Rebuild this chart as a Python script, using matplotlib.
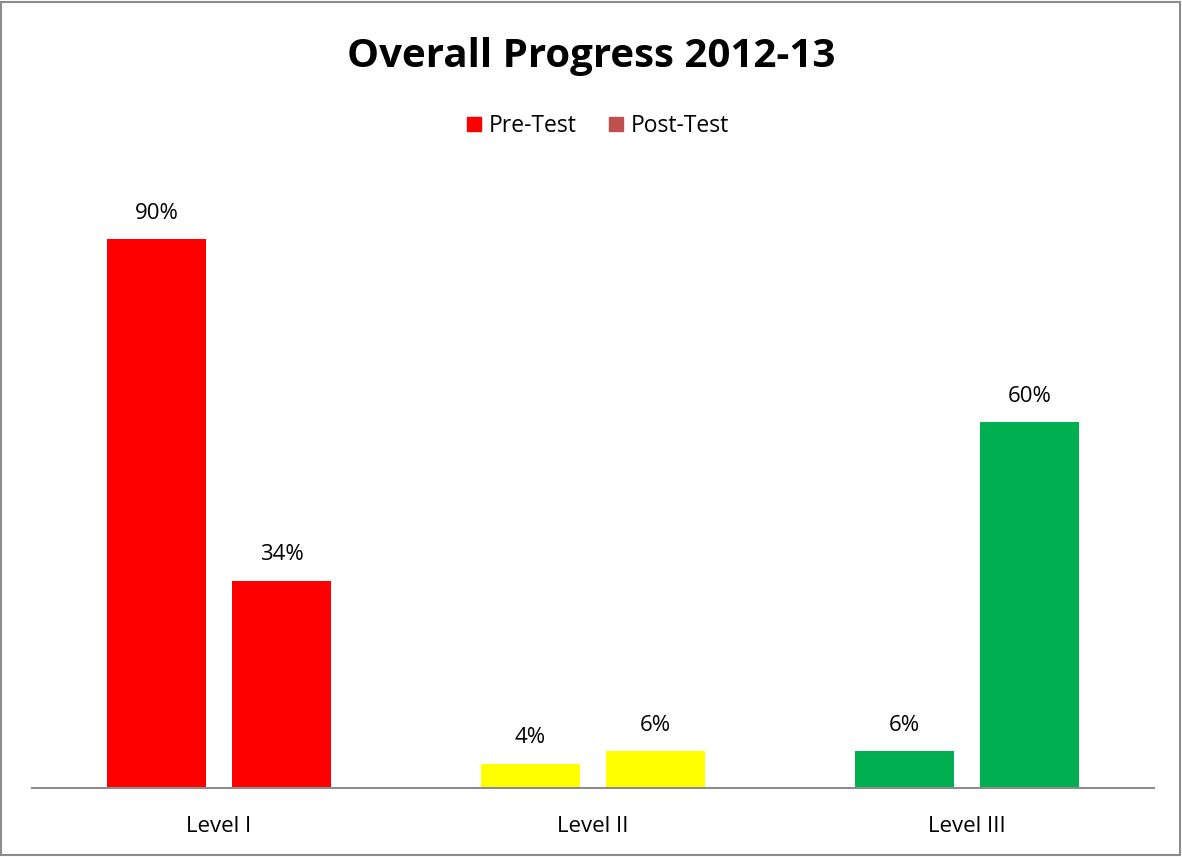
import matplotlib

matplotlib.use("Agg")
import matplotlib.pyplot as plt
import numpy as np
from matplotlib.patches import Patch, Rectangle

levels = ["Level I", "Level II", "Level III"]
pre_test = [90, 4, 6]
post_test = [34, 6, 60]
level_colors = ["#FF0000", "#FFFF00", "#00B050"]

plt.rcParams["font.family"] = ["Open Sans", "DejaVu Sans"]

fig = plt.figure(figsize=(11.82, 8.57), dpi=100)
ax = fig.add_axes([0.0271, 0.0805, 0.9492, 0.7118])

x = np.arange(len(levels))
width = 0.267
offset = 0.167
bars_pre = ax.bar(x - offset, pre_test, width, color=level_colors)
bars_post = ax.bar(x + offset, post_test, width, color=level_colors)

for bars, vals in ((bars_pre, pre_test), (bars_post, post_test)):
    for b, v in zip(bars, vals):
        ax.annotate(f"{v}%", (b.get_x() + b.get_width() / 2, v),
                    xytext=(0, 11), textcoords="offset points",
                    ha="center", va="bottom", fontsize=16)

ax.set_xlim(-0.5, 2.5)
ax.set_ylim(0, 100)
ax.set_xticks(x)
ax.set_xticklabels(levels, fontsize=16)
ax.tick_params(axis="x", length=0, pad=20)
ax.set_yticks([])
for side in ("top", "right", "left"):
    ax.spines[side].set_visible(False)
ax.spines["bottom"].set_color("#8C8C8C")
ax.spines["bottom"].set_linewidth(1.5)

fig.text(0.5, 0.934, "Overall Progress 2012-13", ha="center", va="center",
         fontsize=29, fontweight="bold")

handles = [Patch(color="#FF0000", label="Pre-Test"),
           Patch(color="#C0504D", label="Post-Test")]
fig.legend(handles=handles, loc="center", bbox_to_anchor=(0.506, 0.853),
           ncol=2, frameon=False, fontsize=16.5, handlelength=0.6,
           handleheight=0.6, handletextpad=0.35, columnspacing=1.4)

fig.patches.append(Rectangle((0.001, 0.002), 0.997, 0.996, transform=fig.transFigure,
                             fill=False, edgecolor="#8C8C8C", linewidth=1.5))

fig.savefig("out.png", dpi=100)
